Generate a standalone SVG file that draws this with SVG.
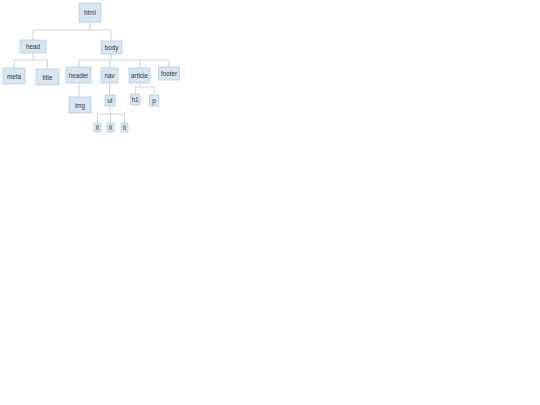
<svg xmlns="http://www.w3.org/2000/svg" width="540" height="405" viewBox="0 0 540 405">
<style>
.n rect{fill:#d5e7f4;stroke:#a8c3d8;stroke-width:0.6}
.n text{font-family:"Liberation Sans",Arial,sans-serif;font-size:6.3px;fill:#333;text-anchor:middle;dominant-baseline:central}
.c path{fill:none;stroke:#c8c8c8;stroke-width:0.8}
</style>
<rect width="540" height="405" fill="#fff"/>
<g class="c" id="connectors">
<path d="M90 22V30M33 30H111M33 30V40M111 30V41"/>
<path d="M33 53V60M14 60H47.5M14 60V68M47.5 60V69"/>
<path d="M111 54V60M79 60H169M79 60V67M109.5 60V68M140 60V68M169 60V67"/>
<path d="M79 83V97"/>
<path d="M109.5 83V95"/>
<path d="M140 83V87M135 87H154M135 87V94M154 87V95"/>
<path d="M110 106V114M97.5 114H124.5M97.5 114V123M110.5 114V123M124.5 114V123"/>
</g>
<g class="n" id="html"><rect x="79" y="3" width="22" height="19"/><text x="90" y="12.5">html</text></g>
<g class="n" id="head"><rect x="20" y="40" width="26" height="13"/><text x="33" y="46.5">head</text></g>
<g class="n" id="body"><rect x="101" y="41" width="21" height="13"/><text x="111.5" y="47.5">body</text></g>
<g class="n" id="meta"><rect x="3" y="68" width="22" height="16"/><text x="14" y="76">meta</text></g>
<g class="n" id="title"><rect x="36" y="69" width="23" height="16"/><text x="47.5" y="77">title</text></g>
<g class="n" id="header"><rect x="66" y="67" width="25" height="16"/><text x="78.5" y="75">header</text></g>
<g class="n" id="nav"><rect x="101" y="68" width="17" height="15"/><text x="109.5" y="75.5">nav</text></g>
<g class="n" id="article"><rect x="129" y="68" width="21" height="15"/><text x="139.5" y="75.5">article</text></g>
<g class="n" id="footer"><rect x="158.5" y="67" width="21" height="13"/><text x="169" y="73.5">footer</text></g>
<g class="n" id="img"><rect x="69" y="97" width="22" height="16"/><text x="80" y="105">img</text></g>
<g class="n" id="ul"><rect x="105" y="95" width="10" height="11"/><text x="110" y="100.5">ul</text></g>
<g class="n" id="h1"><rect x="130.5" y="94" width="9.5" height="11"/><text x="135.25" y="99.5">h1</text></g>
<g class="n" id="p"><rect x="149.5" y="95" width="9" height="11"/><text x="154" y="100.5">p</text></g>
<g class="n" id="li1"><rect x="94" y="123" width="7" height="9"/><text x="97.5" y="127.5">li</text></g>
<g class="n" id="li2"><rect x="107" y="123" width="7" height="9"/><text x="110.5" y="127.5">li</text></g>
<g class="n" id="li3"><rect x="121" y="123" width="7" height="9"/><text x="124.5" y="127.5">li</text></g>
</svg>
